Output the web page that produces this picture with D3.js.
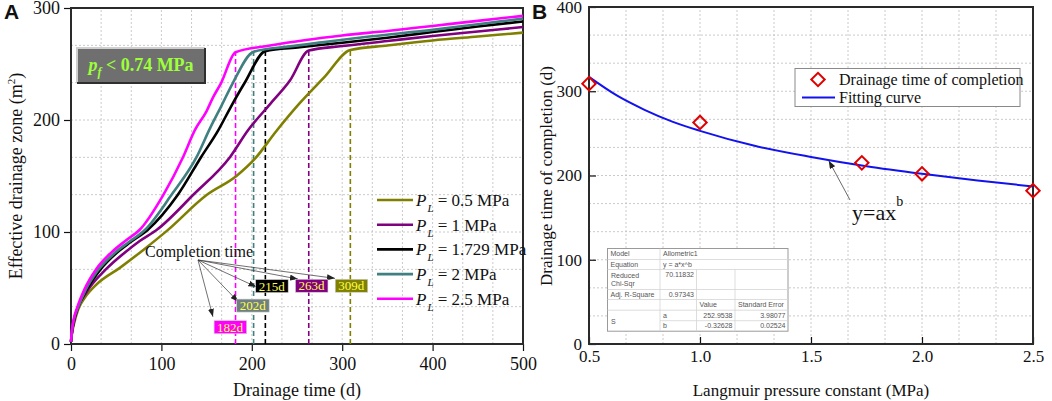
<!DOCTYPE html>
<html>
<head>
<meta charset="utf-8">
<script src="https://cdn.jsdelivr.net/npm/d3@7"></script>
<style>
body { margin: 0; background: #fff; }
</style>
</head>
<body>
<div id="DrainageView"></div>
<script>

// ---- panel A data ----
var plLabels = ["0.5", "1", "1.729", "2", "2.5"];

var tPL05 = [0, 1, 3, 8, 15, 28, 54, 80, 106, 150, 183, 203, 227, 253, 280, 309, 350, 400, 450, 500];
var aPL05 = [2, 9, 17, 31, 41, 53, 68, 84, 101, 133, 150, 165, 190, 215, 238, 262.5, 266.5, 271, 274.5, 278];

var tPL1 = [0, 1, 3, 7, 17, 39, 60, 76, 95, 135, 176, 196, 220, 242, 263, 300, 350, 400, 450, 500];
var aPL1 = [2, 10, 19, 31, 46, 67, 82, 92, 102, 133, 167, 191, 214, 235, 262, 266, 270.5, 275, 279, 283];

var tPL1729 = [0, 1, 3, 8, 17, 32, 50, 66, 85, 118, 144, 163, 177, 192, 215, 253, 300, 350, 400, 450, 500];
var aPL1729 = [2, 10, 20, 33, 48, 66, 81, 91, 102, 133, 167, 191, 212, 233, 261.5, 265, 269, 273.5, 278.5, 283.5, 288];

var tPL2 = [0, 1, 3, 8, 16, 30, 48, 64, 82, 111, 139, 154, 166, 179, 202, 240, 280, 330, 400, 450, 500];
var aPL2 = [2, 11, 21, 33, 48, 66, 81, 91, 102, 133, 167, 193, 212, 233, 261, 265.5, 269.5, 274.5, 280.5, 285.5, 290.5];

var tPL25 = [0, 1, 3, 7, 15, 28, 45, 60, 76, 102, 124, 137, 150, 157, 166, 182, 220, 260, 300, 350, 400, 450, 500];
var aPL25 = [2, 12, 22, 33, 49, 67, 82, 92, 102, 133, 167, 191, 208, 220, 233, 260.5, 266.5, 271.5, 275.5, 279.5, 284, 288.5, 293];

var completionDays = [309, 263, 215, 202, 182];
var completionArea = [262.5, 262, 261.5, 261, 260.5];

// label boxes and arrow tips of the "Completion time" call-out, in data units
var labelT = [310, 266, 222, 201, 176];
var labelV = [52, 52, 51.7, 34.3, 15];
var tipT = [292, 251, 205, 185, 157];
var tipV = [58.6, 58, 51, 37.7, 24.3];

var ticksAx = [0, 100, 200, 300, 400, 500];
var ticksAy = [0, 100, 200, 300];

// ---- panel B data ----
var langmuirP = [0.5, 1, 1.729, 2, 2.5];
var completionTime = [309, 263, 215, 202, 182];
var fitP = [0.5, 0.625, 0.75, 0.875, 1, 1.25, 1.5, 1.75, 2, 2.25, 2.5];
var fitTime = [317, 295, 278, 264, 253, 235, 222, 211, 202, 194, 187];

var ticksBx = [0.5, 1.0, 1.5, 2.0, 2.5];
var ticksBy = [0, 100, 200, 300, 400];

var fitRows = [
	["Model", "Allometric1"],
	["Equation", "y = a*x^b"],
	["Reduced|Chi-Sqr", "70.11832"],
	["Adj. R-Square", "0.97343"],
	["", "", "Value", "Standard Error"],
	["S", "a", "252.9538", "3.98077"],
	["", "b", "-0.32628", "0.02524"]
];

var SERIF = "'Liberation Serif', 'Times New Roman', serif";
var SANS = "'Liberation Sans', Arial, sans-serif";

DrainageCharts = function(){

	this.svg = null;
	this.init();
}

DrainageCharts.prototype.init = function() {

	this.svg = d3.select(DrainageCharts.div)
				.append("svg")
				.attr("width", DrainageCharts.width)
				.attr("height", DrainageCharts.height);

	this.svg.append("defs").append("marker")
		.attr("id", "arrowHead")
		.attr("markerUnits", "userSpaceOnUse")
		.attr("markerWidth", 8)
		.attr("markerHeight", 6)
		.attr("refX", 8)
		.attr("refY", 3)
		.attr("orient", "auto")
		.append("path")
		.attr("d", "M0,0L8,3L0,6Z")
		.attr("fill", "#222");
};

// grid, frame, major + minor ticks for one panel
DrainageCharts.prototype.drawFrame = function(x, y, opt){

	var svg = this.svg;
	var xd = x.domain(), yd = y.domain();
	var xr = x.range(), yr = y.range();

	var grid = svg.append("g").attr("stroke", "#bdbdbd").attr("stroke-width", 0.8).attr("stroke-dasharray", "2,2");
	opt.xMinor.forEach(function(v){
		if (v <= xd[0] + 1e-6 || v >= xd[1] - 1e-6) return;
		grid.append("line").attr("x1", x(v)).attr("x2", x(v)).attr("y1", yr[0]).attr("y2", yr[1]);
	});
	opt.yMinor.forEach(function(v){
		if (v <= yd[0] + 1e-6 || v >= yd[1] - 1e-6) return;
		grid.append("line").attr("x1", xr[0]).attr("x2", xr[1]).attr("y1", y(v)).attr("y2", y(v));
	});

	var dir = opt.inward ? -1 : 1;

	var gx = svg.append("g").attr("transform", "translate(0," + yr[0] + ")");
	gx.call(d3.axisBottom(x).tickValues(opt.xMinor).tickSize(4 * dir).tickFormat(""));
	gx.call(d3.axisBottom(x).tickValues(opt.xTicks).tickSize(7 * dir).tickPadding(opt.padX).tickFormat(opt.fmtX));

	var gy = svg.append("g").attr("transform", "translate(" + xr[0] + ",0)");
	gy.call(d3.axisLeft(y).tickValues(opt.yMinor).tickSize(4 * dir).tickFormat(""));
	gy.call(d3.axisLeft(y).tickValues(opt.yTicks).tickSize(7 * dir).tickPadding(opt.padY).tickFormat(d3.format("d")));

	[gx, gy].forEach(function(g){
		g.selectAll(".domain").remove();
		g.selectAll("line").attr("stroke", "#111").attr("stroke-width", 1.2);
		g.selectAll("text").attr("font-size", opt.fontSize).attr("fill", "#111");
	});

	svg.append("rect")
		.attr("x", xr[0]).attr("y", yr[1])
		.attr("width", xr[1] - xr[0]).attr("height", yr[0] - yr[1])
		.attr("fill", "none").attr("stroke", "#2a2a2a").attr("stroke-width", 2);
};

DrainageCharts.prototype.renderA = function(){

	var svg = this.svg;
	var x = d3.scaleLinear().domain([0, 500]).range([71, 523]);
	var y = d3.scaleLinear().domain([0, 300]).range([344, 8]);

	this.drawFrame(x, y, {
		xTicks: ticksAx, yTicks: ticksAy,
		xMinor: d3.range(0, 501, 100 / 3), yMinor: d3.range(0, 301, 100 / 3),
		fmtX: d3.format("d"), padX: 6, padY: 4, fontSize: 18, inward: false
	});

	var times = [tPL05, tPL1, tPL1729, tPL2, tPL25];
	var areas = [aPL05, aPL1, aPL1729, aPL2, aPL25];

	// completion markers
	completionDays.forEach(function(d, i){
		svg.append("line")
			.attr("x1", x(d)).attr("x2", x(d))
			.attr("y1", y(0)).attr("y2", y(completionArea[i]))
			.attr("stroke", DrainageCharts.colorsA[i])
			.attr("stroke-width", 1.6)
			.attr("stroke-dasharray", "5,3");
	});

	var line = d3.line().x(function(d){ return x(d[0]); }).y(function(d){ return y(d[1]); }).curve(d3.curveMonotoneX);
	times.forEach(function(t, i){
		svg.append("path")
			.attr("d", line(d3.zip(t, areas[i])))
			.attr("fill", "none")
			.attr("stroke", DrainageCharts.colorsA[i])
			.attr("stroke-width", 2.6);
	});

	// legend
	plLabels.forEach(function(p, i){
		var ly = 200 + i * 24.7;
		svg.append("line").attr("x1", 377).attr("x2", 413).attr("y1", ly).attr("y2", ly)
			.attr("stroke", DrainageCharts.colorsA[i]).attr("stroke-width", 2.6);
		var t = svg.append("text").attr("x", 416).attr("y", ly + 6).attr("font-size", 17).attr("fill", "#111");
		t.append("tspan").attr("font-style", "italic").text("P");
		t.append("tspan").attr("font-style", "italic").attr("font-size", 11).attr("dy", 6).attr("dx", 1).text("L");
		t.append("tspan").attr("dy", -6).text(" = " + p + " MPa");
	});

	// "Completion time" call-out
	svg.append("text").attr("x", 199).attr("y", 257).attr("text-anchor", "middle")
		.attr("font-size", 16).attr("fill", "#111").text("Completion time");

	completionDays.forEach(function(d, i){
		svg.append("line")
			.attr("x1", 198).attr("y1", 260)
			.attr("x2", x(tipT[i])).attr("y2", y(tipV[i]))
			.attr("stroke", "#333").attr("stroke-width", 0.7)
			.attr("marker-end", "url(#arrowHead)");

		var g = svg.append("g").attr("transform", "translate(" + x(labelT[i]) + "," + y(labelV[i]) + ")");
		var rect = g.append("rect");
		var txt = g.append("text").attr("text-anchor", "middle").attr("y", 4.5)
			.style("font-family", SERIF)
			.attr("font-size", 13).attr("fill", "#ffff4a").text(d + "d");
		var bb = txt.node().getBBox();
		rect.attr("x", bb.x - 3).attr("y", -6.5).attr("width", bb.width + 6).attr("height", 13)
			.attr("fill", DrainageCharts.boxA[i]).attr("stroke", "#d0d0d0").attr("stroke-width", 0.6);
	});

	// p_f box
	var bx = 77, by = 48, bw = 128, bh = 35;
	svg.append("rect").attr("x", bx).attr("y", by).attr("width", bw).attr("height", bh).attr("fill", "#6f6f6f");
	svg.append("path").attr("d", "M" + bx + "," + (by + bh) + "V" + by + "H" + (bx + bw))
		.attr("fill", "none").attr("stroke", "#cfcfcf").attr("stroke-width", 2);
	svg.append("path").attr("d", "M" + bx + "," + (by + bh) + "H" + (bx + bw) + "V" + by)
		.attr("fill", "none").attr("stroke", "#2f2f2f").attr("stroke-width", 2);
	var pf = svg.append("text").attr("x", bx + bw / 2).attr("y", by + 23).attr("text-anchor", "middle")
		.attr("font-size", 18).attr("font-weight", "bold").attr("fill", "#9cff3a");
	pf.append("tspan").attr("font-style", "italic").text("p");
	pf.append("tspan").attr("font-style", "italic").attr("font-size", 12).attr("dy", 5).text("f");
	pf.append("tspan").attr("dy", -5).text(" < 0.74 MPa");

	// titles
	svg.append("text").attr("x", 297).attr("y", 396).attr("text-anchor", "middle")
		.attr("font-size", 18).attr("fill", "#111").text("Drainage time (d)");
	var yt = svg.append("text").attr("transform", "translate(22,176) rotate(-90)").attr("text-anchor", "middle")
		.attr("font-size", 18).attr("fill", "#111");
	yt.append("tspan").text("Effective drainage zone (m");
	yt.append("tspan").attr("font-size", 11).attr("dy", -7).text("2");
	yt.append("tspan").attr("dy", 7).text(")");

	svg.append("text").attr("x", 4).attr("y", 19).attr("class", "sans")
		.attr("font-weight", "bold").attr("font-size", 21).attr("fill", "#111").text("A");
};

DrainageCharts.prototype.renderB = function(){

	var svg = this.svg;
	var x = d3.scaleLinear().domain([0.5, 2.5]).range([589, 1033]);
	var y = d3.scaleLinear().domain([0, 400]).range([344, 7]);

	this.drawFrame(x, y, {
		xTicks: ticksBx, yTicks: ticksBy,
		xMinor: d3.range(0.5, 2.51, 1 / 6), yMinor: d3.range(0, 401, 100 / 3),
		fmtX: d3.format(".1f"), padX: 6, padY: 7, fontSize: 17, inward: true
	});

	var line = d3.line().x(function(d){ return x(d[0]); }).y(function(d){ return y(d[1]); }).curve(d3.curveMonotoneX);
	svg.append("path")
		.attr("d", line(d3.zip(fitP, fitTime)))
		.attr("fill", "none").attr("stroke", "#1212ee").attr("stroke-width", 2);

	var diamond = d3.symbol().type(d3.symbolSquare).size(90);
	langmuirP.forEach(function(p, i){
		svg.append("path")
			.attr("d", diamond())
			.attr("transform", "translate(" + x(p) + "," + y(completionTime[i]) + ") rotate(45)")
			.attr("fill", "none").attr("stroke", "#e00000").attr("stroke-width", 2);
	});

	// legend
	svg.append("rect").attr("x", 795).attr("y", 68.5).attr("width", 225).attr("height", 38)
		.attr("fill", "#fff").attr("stroke", "#8a8a8a").attr("stroke-width", 1);
	svg.append("path").attr("d", diamond()).attr("transform", "translate(818,79.5) rotate(45)")
		.attr("fill", "none").attr("stroke", "#e00000").attr("stroke-width", 2);
	svg.append("text").attr("x", 839).attr("y", 85).attr("font-size", 16).attr("fill", "#111").text("Drainage time of completion");
	svg.append("line").attr("x1", 802).attr("x2", 835).attr("y1", 97.5).attr("y2", 97.5)
		.attr("stroke", "#1212ee").attr("stroke-width", 2);
	svg.append("text").attr("x", 839).attr("y", 103).attr("font-size", 16).attr("fill", "#111").text("Fitting curve");

	// y=ax^b annotation
	svg.append("line").attr("x1", 850).attr("y1", 200).attr("x2", x(1.58)).attr("y2", y(220) + 2)
		.attr("stroke", "#444").attr("stroke-width", 0.8).attr("marker-end", "url(#arrowHead)");
	var eq = svg.append("text").attr("x", 852).attr("y", 220).attr("font-size", 22).attr("fill", "#111");
	eq.append("tspan").text("y=ax");
	eq.append("tspan").attr("font-size", 14).attr("dy", -14).text("b");

	this.drawTable(607.5, 248.5);

	// titles
	svg.append("text").attr("x", 811).attr("y", 396).attr("text-anchor", "middle")
		.attr("font-size", 17).attr("fill", "#111").text("Langmuir pressure constant (MPa)");
	svg.append("text").attr("transform", "translate(552,176) rotate(-90)").attr("text-anchor", "middle")
		.attr("font-size", 17).attr("fill", "#111").text("Drainage time of completion (d)");

	svg.append("text").attr("x", 532).attr("y", 19).attr("class", "sans")
		.attr("font-weight", "bold").attr("font-size", 21).attr("fill", "#111").text("B");
};

// the Origin fit-report table
DrainageCharts.prototype.drawTable = function(tx, ty){

	var colW = [52.5, 36.5, 38.5, 53];
	var rowH = [11, 10, 20, 10, 10.7, 10.5, 10.5];
	var colX = [0], rowY = [0];
	colW.forEach(function(w, i){ colX.push(colX[i] + w); });
	rowH.forEach(function(h, i){ rowY.push(rowY[i] + h); });
	var W = colX[4], H = rowY[7];

	var g = this.svg.append("g").attr("transform", "translate(" + tx + "," + ty + ")");
	g.append("rect").attr("width", W).attr("height", H).attr("fill", "#fff").attr("stroke", "#9a9a9a").attr("stroke-width", 1);

	var ln = function(x1, y1, x2, y2){
		g.append("line").attr("x1", x1).attr("y1", y1).attr("x2", x2).attr("y2", y2)
			.attr("stroke", "#d4d4d4").attr("stroke-width", 0.8);
	};
	for (var r = 1; r < 7; r++) ln(r == 6 ? colX[1] : 0, rowY[r], W, rowY[r]);
	ln(colX[1], 0, colX[1], H);
	ln(colX[2], rowY[2], colX[2], H);
	ln(colX[3], rowY[2], colX[3], H);

	var txt = function(s, cx, cy, anchor){
		g.append("text").attr("x", cx).attr("y", cy).attr("text-anchor", anchor || "start")
			.attr("class", "sans")
			.attr("font-size", 7).attr("fill", "#555").text(s);
	};

	fitRows.forEach(function(row, r){
		var base = rowY[r] + 7.5;
		row.forEach(function(s, c){
			if (!s) return;
			if (c == 0 && s.indexOf("|") > 0) {
				var parts = s.split("|");
				txt(parts[0], 3.5, rowY[r] + 8);
				txt(parts[1], 3.5, rowY[r] + 16.5);
				return;
			}
			if (c == 0 && r == 5) { txt(s, 3.5, rowY[6] + 3); return; }
			var numeric = /^-?[0-9.]+$/.test(s);
			if (numeric) txt(s, colX[c + 1] - 2.5, base, "end");
			else txt(s, colX[c] + 3, base);
		});
	});
};

DrainageCharts.prototype.render = function(){

	this.renderA();
	this.renderB();

	// serif everywhere except the panel letters and the fit table
	this.svg.selectAll("text").each(function(){
		var t = d3.select(this);
		t.style("font-family", t.classed("sans") ? SANS : SERIF);
	});
};

DrainageCharts.width = 1052;
DrainageCharts.height = 401;
DrainageCharts.div = "#DrainageView";
DrainageCharts.colorsA = ["#808000", "#800080", "#000000", "#408080", "#ff00ff"];
DrainageCharts.boxA = ["#808000", "#800080", "#000000", "#708080", "#ff00ff"];

var chart = new DrainageCharts();
chart.render();

</script>
</body>
</html>
